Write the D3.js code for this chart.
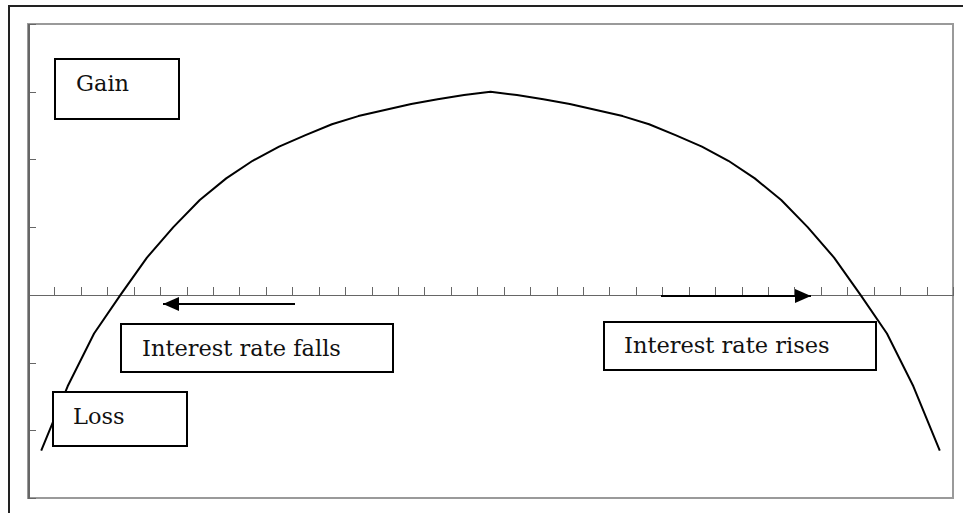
<!DOCTYPE html>
<html lang="en">
<head>
    <meta charset="UTF-8">
    <title>Gain / Loss vs Interest Rate</title>
    <style>
        body {
            margin: 0;
            background: #fff;
        }
        svg {
            display: block;
        }
        .axis path,
        .axis line {
            fill: none;
            stroke: #666;
            shape-rendering: crispEdges;
        }
        .label-box {
            fill: #fff;
            stroke: #000;
            stroke-width: 2;
        }
        .label-text {
            font-family: 'DejaVu Serif', 'Liberation Serif', serif;
            font-size: 22.5px;
            fill: #111;
        }
    </style>
</head>
<body>
<div id="chart"></div>
<script src="https://d3js.org/d3.v7.min.js"></script>
<script>
    // data: 35 categories, value of the curve for each one
    const categories = d3.range(35);
    const values = [
        -2.3, -1.35, -0.57, 0.0, 0.55, 1.0, 1.4, 1.72, 1.98, 2.19, 2.36, 2.52,
        2.64, 2.73, 2.82, 2.89, 2.95, 3.0, 2.95, 2.89, 2.82, 2.73, 2.64, 2.52,
        2.36, 2.19, 1.98, 1.72, 1.4, 1.0, 0.55, 0.0, -0.57, -1.35, -2.3
    ];
    const yTicks = [-3, -2, -1, 0, 1, 2, 3, 4];
    const labels = ['Gain', 'Loss', 'Interest rate falls', 'Interest rate rises'];

    const W = 963, H = 513;
    const plot = { left: 28, top: 24, right: 953, bottom: 498 };

    const svg = d3.select('#chart')
        .append('svg')
        .attr('width', W)
        .attr('height', H);

    // 外框 (outer frame runs off the right and bottom of the picture)
    svg.append('rect')
        .attr('x', 9)
        .attr('y', 6)
        .attr('width', 1000)
        .attr('height', 600)
        .attr('fill', 'none')
        .attr('stroke', '#222')
        .attr('stroke-width', 2);

    // scales
    const xEdge = d3.scaleLinear()
        .domain([0, categories.length])
        .range([plot.left, plot.right]);

    const y = d3.scaleLinear()
        .domain([d3.min(yTicks), d3.max(yTicks)])
        .range([plot.bottom, plot.top]);

    // plot area border
    svg.append('rect')
        .attr('x', plot.left)
        .attr('y', plot.top)
        .attr('width', plot.right - plot.left)
        .attr('height', plot.bottom - plot.top)
        .attr('fill', 'none')
        .attr('stroke', '#9a9a9a')
        .attr('stroke-width', 2);

    // y axis, ticks pointing inside
    const yAxis = d3.axisLeft(y)
        .tickValues(yTicks)
        .tickSizeInner(-8)
        .tickSizeOuter(0)
        .tickFormat('');

    svg.append('g')
        .attr('class', 'axis')
        .attr('id', 'y-axis')
        .attr('transform', `translate(${plot.left},0)`)
        .call(yAxis)
        .call(g => g.select('.domain').attr('stroke', '#555').attr('stroke-width', 2));

    // x axis across y = 0, ticks between categories, pointing up
    const xAxis = d3.axisBottom(xEdge)
        .tickValues(d3.range(categories.length + 1))
        .tickSizeInner(-8)
        .tickSizeOuter(0)
        .tickFormat('');

    svg.append('g')
        .attr('class', 'axis')
        .attr('id', 'x-axis')
        .attr('transform', `translate(0,${y(0)})`)
        .call(xAxis)
        .call(g => g.select('.domain').attr('stroke-width', 1.3));

    // the curve
    const line = d3.line()
        .x((d, i) => xEdge(categories[i] + 0.5))
        .y(d => y(d));

    svg.append('path')
        .datum(values)
        .attr('fill', 'none')
        .attr('stroke', '#000')
        .attr('stroke-width', 2)
        .attr('stroke-linejoin', 'round')
        .attr('d', line);

    // arrow heads
    const defs = svg.append('defs');
    defs.append('marker')
        .attr('id', 'head')
        .attr('viewBox', '0 0 16 14')
        .attr('refX', 16)
        .attr('refY', 7)
        .attr('markerUnits', 'userSpaceOnUse')
        .attr('markerWidth', 16)
        .attr('markerHeight', 14)
        .attr('orient', 'auto')
        .append('path')
        .attr('d', 'M0,0 L16,7 L0,14 Z')
        .attr('fill', '#000');

    const arrows = [
        { x1: 295, x2: 163, y: 304 },
        { x1: 661, x2: 811, y: 296 }
    ];
    svg.selectAll('.arrow')
        .data(arrows)
        .enter()
        .append('line')
        .attr('class', 'arrow')
        .attr('x1', d => d.x1)
        .attr('x2', d => d.x2)
        .attr('y1', d => d.y)
        .attr('y2', d => d.y)
        .attr('stroke', '#000')
        .attr('stroke-width', 2.2)
        .attr('marker-end', 'url(#head)');

    // text boxes
    const boxes = [
        { text: labels[0], x: 55, y: 59, w: 124, h: 60, tx: 76, ty: 91 },
        { text: labels[1], x: 53, y: 392, w: 134, h: 54, tx: 73, ty: 424 },
        { text: labels[2], x: 121, y: 324, w: 272, h: 48, tx: 142, ty: 356 },
        { text: labels[3], x: 604, y: 322, w: 272, h: 48, tx: 624, ty: 353 }
    ];

    const box = svg.selectAll('.box')
        .data(boxes)
        .enter()
        .append('g')
        .attr('class', 'box');

    box.append('rect')
        .attr('class', 'label-box')
        .attr('x', d => d.x)
        .attr('y', d => d.y)
        .attr('width', d => d.w)
        .attr('height', d => d.h);

    box.append('text')
        .attr('class', 'label-text')
        .attr('x', d => d.tx)
        .attr('y', d => d.ty)
        .text(d => d.text);
</script>
</body>
</html>
